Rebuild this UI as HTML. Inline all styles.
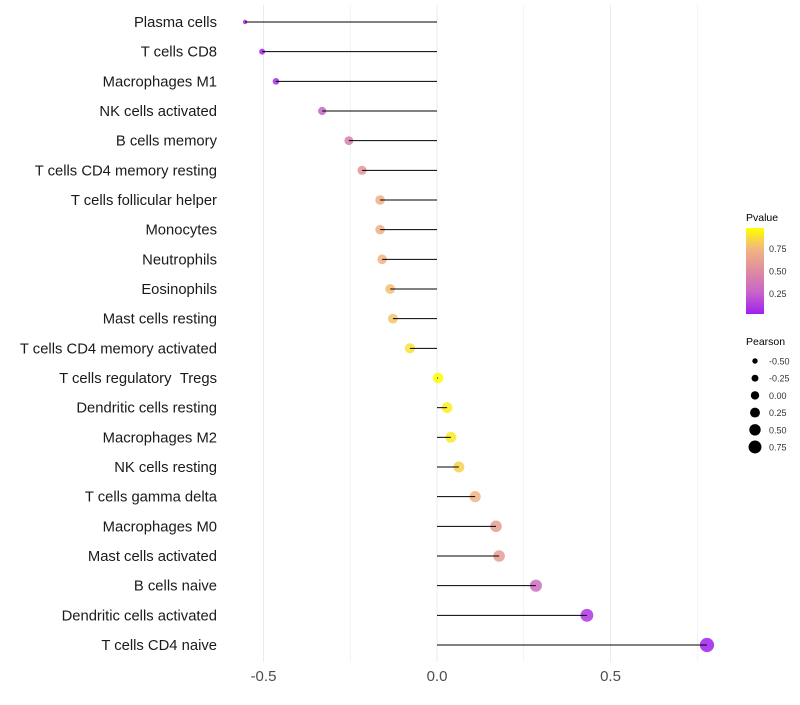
<!DOCTYPE html>
<html><head><meta charset="utf-8"><style>
body{margin:0;background:#fff;font-family:"Liberation Sans",sans-serif}
</style></head><body>
<svg id="c" width="800" height="700"></svg>
<script>
const categories=["Plasma cells","T cells CD8","Macrophages M1","NK cells activated","B cells memory","T cells CD4 memory resting","T cells follicular helper","Monocytes","Neutrophils","Eosinophils","Mast cells resting","T cells CD4 memory activated","T cells regulatory \u00a0Tregs","Dendritic cells resting","Macrophages M2","NK cells resting","T cells gamma delta","Macrophages M0","Mast cells activated","B cells naive","Dendritic cells activated","T cells CD4 naive"];
const pearson=[-0.553,-0.504,-0.464,-0.331,-0.254,-0.216,-0.164,-0.164,-0.158,-0.135,-0.127,-0.078,0.003,0.029,0.040,0.063,0.110,0.170,0.179,0.285,0.432,0.778];
const pvalue=[0.01,0.03,0.05,0.25,0.42,0.55,0.72,0.72,0.74,0.78,0.8,0.9,0.99,0.95,0.93,0.85,0.75,0.6,0.6,0.3,0.08,0.0];
const xTicks=[-0.5,0,0.5];
const xTickLabels=["-0.5","0.0","0.5"];
const sizeLegend=[-0.5,-0.25,0,0.25,0.5,0.75];
const pLegend=[0.25,0.5,0.75];
const NS="http://www.w3.org/2000/svg",svg=document.getElementById('c');
function x(v){return 437+v*347;}
function y(i){return 22+i*(623/21);}
function r(p){return 2+3.3*Math.sqrt(Math.max(0,(p+0.555)/0.555));}
function mix(a,b,t){return a.map((v,i)=>Math.round(v+(b[i]-v)*t));}
const stops=[[0,[160,32,240]],[0.25,[200,100,200]],[0.5,[222,140,160]],[0.75,[242,180,130]],[1,[255,255,0]]];
function col(p){for(let i=1;i<stops.length;i++){if(p<=stops[i][0]){const t=(p-stops[i-1][0])/(stops[i][0]-stops[i-1][0]);const c=mix(stops[i-1][1],stops[i][1],t);return `rgb(${c})`;}}return 'rgb(255,255,0)';}
function el(t,a,txt){const e=document.createElementNS(NS,t);for(const k in a)e.setAttribute(k,a[k]);if(txt!==undefined)e.textContent=txt;svg.appendChild(e);return e;}
[-0.5,-0.25,0,0.25,0.5,0.75].forEach(v=>{const g=el('line',{x1:x(v),x2:x(v),y1:5,y2:662,stroke:'#ebebeb','stroke-width':v*4%2===0?1:0.6});

});
xTicks.forEach((v,i)=>{const t=el('text',{x:x(v),y:681,'text-anchor':'middle','font-size':15,fill:'#4d4d4d'},xTickLabels[i]);

});
categories.forEach((c,i)=>{
const t=el('text',{x:217,y:y(i)+5,'text-anchor':'end','font-size':14.8,fill:'#1a1a1a'},c);


const pt=el('circle',{cx:x(pearson[i]),cy:y(i),r:r(pearson[i]),fill:col(pvalue[i]),'fill-opacity':0.85});


const s=el('line',{x1:x(0),x2:x(pearson[i]),y1:y(i),y2:y(i),stroke:'#000','stroke-width':1});


});
let lt=el('text',{x:746,y:221,'font-size':10.5,fill:'#000'},'Pvalue');


const defs=el('defs',{});const lg=document.createElementNS(NS,'linearGradient');lg.setAttribute('id','g');lg.setAttribute('x1',0);lg.setAttribute('y1',1);lg.setAttribute('x2',0);lg.setAttribute('y2',0);defs.appendChild(lg);
stops.forEach(s=>{const st=document.createElementNS(NS,'stop');st.setAttribute('offset',s[0]);st.setAttribute('stop-color',`rgb(${s[1]})`);lg.appendChild(st);});
let cb=el('rect',{x:746,y:228,width:18,height:86,fill:'url(#g)'});


pLegend.forEach(p=>{const yv=314-((p-0.02)/0.96)*86;
const t=el('text',{x:769,y:yv+3.5,'font-size':9,fill:'#333'},p.toFixed(2));

});
lt=el('text',{x:746,y:345,'font-size':10.5,fill:'#000'},'Pearson');


sizeLegend.forEach((v,i)=>{const yy=361+i*17.2;
const c=el('circle',{cx:755,cy:yy,r:2.7+i*0.75,fill:'#000'});


const t=el('text',{x:769,y:yy+3.5,'font-size':9,fill:'#333'},v.toFixed(2));

});
</script>
</body></html>
